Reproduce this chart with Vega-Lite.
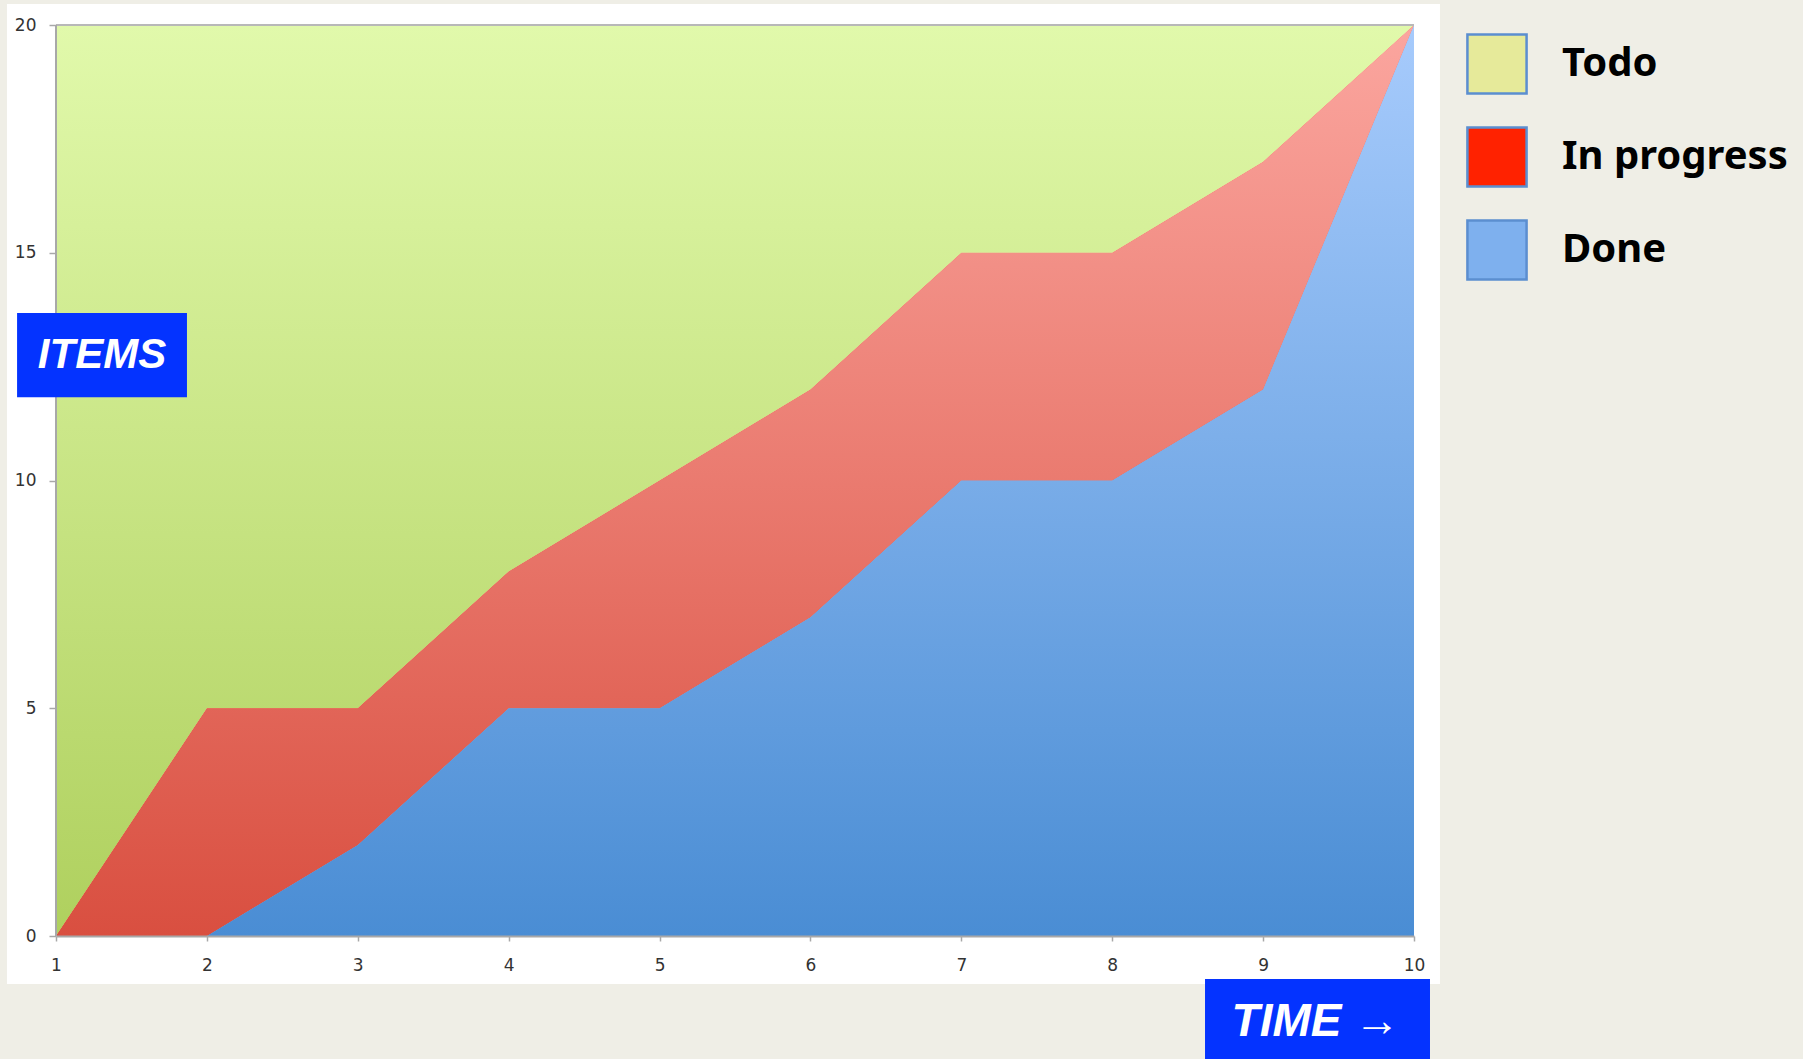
{
  "$schema": "https://vega.github.io/schema/vega-lite/v6.json",
  "width": 1358,
  "height": 911,
  "autosize": {"type": "none"},
  "padding": {"left": 56, "top": 25, "right": 389, "bottom": 123},
  "background": "#efeee6",
  "config": {"view": {"stroke": null}},
  "datasets": {
    "cfd": [
      {"t": 1, "Done": 0, "In progress": 0, "Todo": 20},
      {"t": 2, "Done": 0, "In progress": 5, "Todo": 15},
      {"t": 3, "Done": 2, "In progress": 3, "Todo": 15},
      {"t": 4, "Done": 5, "In progress": 3, "Todo": 12},
      {"t": 5, "Done": 5, "In progress": 5, "Todo": 10},
      {"t": 6, "Done": 7, "In progress": 5, "Todo": 8},
      {"t": 7, "Done": 10, "In progress": 5, "Todo": 5},
      {"t": 8, "Done": 10, "In progress": 5, "Todo": 5},
      {"t": 9, "Done": 12, "In progress": 5, "Todo": 3},
      {"t": 10, "Done": 20, "In progress": 0, "Todo": 0}
    ],
    "one": [{}]
  },
  "layer": [
    {
      "data": {"name": "one"},
      "mark": {"type": "rect", "color": "#ffffff", "clip": false},
      "encoding": {
        "x": {"datum": 0.675, "type": "quantitative", "scale": {"domain": [1, 10], "nice": false, "zero": false}, "axis": {"values": [1,2,3,4,5,6,7,8,9,10], "format": "d", "title": null, "grid": false, "tickSize": 5, "labelPadding": 16, "labelFont": "DejaVu Sans", "labelFontSize": 17, "labelColor": "#333333", "domainColor": "#a8a8a8", "domainWidth": 2, "tickColor": "#a8a8a8", "tickWidth": 1.5, "labelFlush": false, "zindex": 1}},
        "x2": {"datum": 10.172},
        "y": {"datum": 20.46, "type": "quantitative", "scale": {"domain": [0, 20], "nice": false, "zero": false}, "axis": {"values": [0,5,10,15,20], "format": "d", "title": null, "grid": false, "domain": false, "tickSize": 7, "labelPadding": 13, "labelFont": "DejaVu Sans", "labelFontSize": 17, "labelColor": "#333333", "tickColor": "#a8a8a8", "tickWidth": 1.5, "zindex": 1}},
        "y2": {"datum": -1.054}
      }
    },
    {
      "data": {"name": "cfd"},
      "transform": [
        {"fold": ["Done", "In progress", "Todo"], "as": ["key", "value"]},
        {"stack": "value", "groupby": ["t"], "sort": [{"field": "key", "order": "ascending"}], "as": ["y0", "y1"]}
      ],
      "layer": [
        {
          "mark": {"type": "area"},
          "encoding": {
            "x": {"field": "t", "type": "quantitative", "scale": {"domain": [1, 10], "nice": false, "zero": false}},
            "y": {"field": "y1", "type": "quantitative", "scale": {"domain": [0, 20], "nice": false, "zero": false}},
            "y2": {"field": "y0"},
            "color": {
              "field": "key", "type": "nominal",
              "scale": {"domain": ["Todo", "In progress", "Done"], "range": ["#e6ea9a", "#ff2200", "#7eb0ee"]},
              "legend": {
                "title": null, "orient": "none", "legendX": 1410, "legendY": 8,
                "symbolType": "square", "symbolSize": 3500, "symbolOpacity": 1,
                "symbolStrokeColor": "#5b8ed0", "symbolStrokeWidth": 2.5,
                "labelFont": "Noto Sans", "labelFontWeight": "bold", "labelFontSize": 40, "labelColor": "#000000",
                "labelLimit": 0, "labelOffset": 34, "rowPadding": 23, "padding": 0,
                "encode": {"symbols": {"update": {"stroke": {"value": "#5b8ed0"}, "strokeWidth": {"value": 2.5}, "opacity": {"value": 1}}}}
              }
            }
          }
        },
        {
          "transform": [{"filter": "datum.key === 'Todo'"}],
          "mark": {"type": "area", "color": {"gradient": "linear", "x1": 0, "y1": 0, "x2": 0, "y2": 1, "stops": [{"offset": 0, "color": "#e1f9ab"}, {"offset": 1, "color": "#afd05e"}]}},
          "encoding": {
            "x": {"field": "t", "type": "quantitative"},
            "y": {"field": "y1", "type": "quantitative"},
            "y2": {"field": "y0"}
          }
        },
        {
          "transform": [{"filter": "datum.key === 'In progress'"}],
          "mark": {"type": "area", "color": {"gradient": "linear", "x1": 0, "y1": 0, "x2": 0, "y2": 1, "stops": [{"offset": 0, "color": "#fba69f"}, {"offset": 1, "color": "#d94f40"}]}},
          "encoding": {
            "x": {"field": "t", "type": "quantitative"},
            "y": {"field": "y1", "type": "quantitative"},
            "y2": {"field": "y0"}
          }
        },
        {
          "transform": [{"filter": "datum.key === 'Done'"}],
          "mark": {"type": "area", "color": {"gradient": "linear", "x1": 0, "y1": 0, "x2": 0, "y2": 1, "stops": [{"offset": 0, "color": "#a7cbfc"}, {"offset": 1, "color": "#4a8dd4"}]}},
          "encoding": {
            "x": {"field": "t", "type": "quantitative"},
            "y": {"field": "y1", "type": "quantitative"},
            "y2": {"field": "y0"}
          }
        }
      ]
    },
    {
      "data": {"name": "one"},
      "mark": {"type": "rule", "color": "#b8b8b8", "strokeWidth": 2},
      "encoding": {"x": {"datum": 1, "type": "quantitative"}, "x2": {"datum": 10}, "y": {"datum": 20, "type": "quantitative"}}
    },
    {
      "data": {"name": "one"},
      "mark": {"type": "rule", "color": "#a8a8a8", "strokeWidth": 2},
      "encoding": {"x": {"datum": 1, "type": "quantitative"}, "y": {"datum": 0, "type": "quantitative"}, "y2": {"datum": 20}}
    },
    {
      "data": {"name": "one"},
      "mark": {"type": "rect", "color": "#0433ff", "clip": false},
      "encoding": {"x": {"datum": 0.742, "type": "quantitative"}, "x2": {"datum": 1.868}, "y": {"datum": 13.68, "type": "quantitative"}, "y2": {"datum": 11.83}}
    },
    {
      "data": {"name": "one"},
      "mark": {"type": "text", "text": "ITEMS", "color": "#ffffff", "font": "Liberation Sans", "fontStyle": "italic", "fontWeight": "bold", "fontSize": 42, "align": "center", "baseline": "middle", "clip": false},
      "encoding": {"x": {"datum": 1.305, "type": "quantitative"}, "y": {"datum": 12.75, "type": "quantitative"}}
    },
    {
      "data": {"name": "one"},
      "mark": {"type": "rect", "color": "#0433ff", "clip": false},
      "encoding": {"x": {"datum": 8.615, "type": "quantitative"}, "x2": {"datum": 10.106}, "y": {"datum": -0.944, "type": "quantitative"}, "y2": {"datum": -2.75}}
    },
    {
      "data": {"name": "one"},
      "mark": {"type": "text", "text": "TIME →", "color": "#ffffff", "font": "Liberation Sans", "fontStyle": "italic", "fontWeight": "bold", "fontSize": 46, "align": "center", "baseline": "middle", "clip": false},
      "encoding": {"x": {"datum": 9.35, "type": "quantitative"}, "y": {"datum": -1.89, "type": "quantitative"}}
    }
  ]
}
